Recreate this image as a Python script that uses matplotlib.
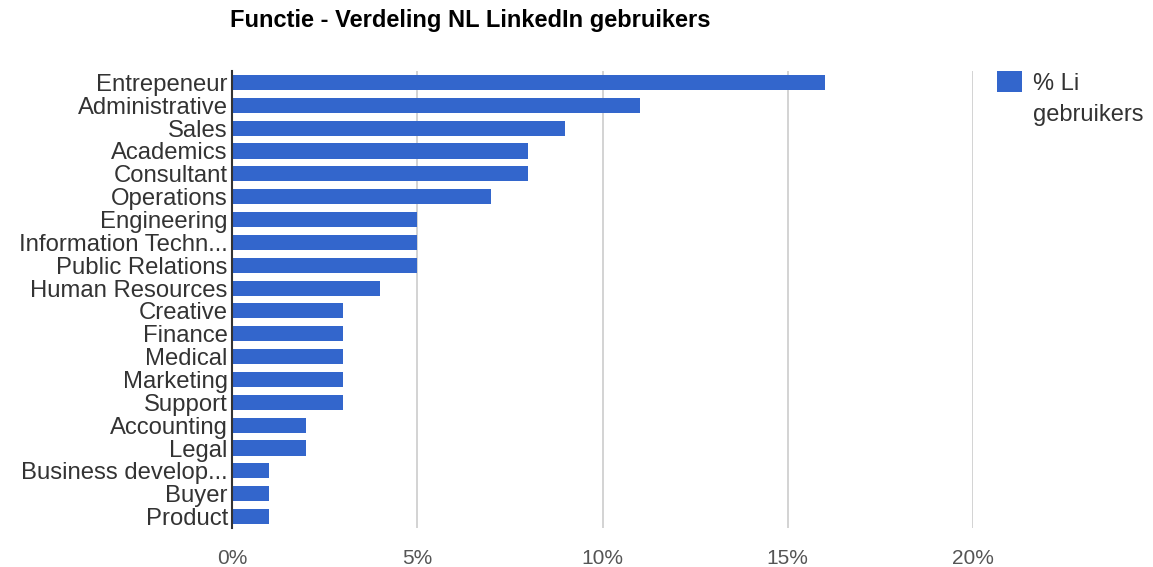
import numpy as np
import matplotlib.pyplot as plt
from matplotlib.patches import Patch

# Data
functies = ["Entrepeneur", "Administrative", "Sales", "Academics", "Consultant",
            "Operations", "Engineering", "Information Techn...", "Public Relations",
            "Human Resources", "Creative", "Finance", "Medical", "Marketing",
            "Support", "Accounting", "Legal", "Business develop...", "Buyer", "Product"]
percentages = [16, 11, 9, 8, 8, 7, 5, 5, 5, 4, 3, 3, 3, 3, 3, 2, 2, 1, 1, 1]
xticks = [0, 5, 10, 15, 20]
xticklabels = ["0%", "5%", "10%", "15%", "20%"]

plt.rcParams['font.family'] = ['Liberation Sans', 'DejaVu Sans']

fig = plt.figure(figsize=(11.53, 5.67), dpi=100)
ax = fig.add_axes([232 / 1153, 1 - 528 / 567, 741 / 1153, 457 / 567])

y = np.arange(len(functies))
ax.barh(y, percentages, height=0.66, color='#3366CC', zorder=3)

ax.set_xlim(0, 20)
ax.set_ylim(len(functies) - 0.5, -0.5)
ax.set_yticks(y)
ax.set_yticklabels(functies, fontsize=17.2, color='#333333')
ax.set_xticks(xticks)
ax.set_xticklabels(xticklabels, fontsize=15, color='#555555')
ax.tick_params(axis='both', length=0)
ax.tick_params(axis='y', pad=3)
ax.tick_params(axis='x', pad=15)

ax.grid(axis='x', color='#cccccc', linewidth=1.2, zorder=0)
for s in ['top', 'right', 'bottom']:
    ax.spines[s].set_visible(False)
ax.spines['left'].set_color('#333333')
ax.spines['left'].set_linewidth(1.5)
ax.spines['left'].set_zorder(4)

fig.text(230 / 1153, 1 - 20 / 567, "Functie - Verdeling NL LinkedIn gebruikers",
         fontsize=17, fontweight='bold', ha='left', va='center', color='black')

# legend: square + first line, second line as text below
leg = fig.legend(handles=[Patch(facecolor='#3366CC', label='% Li')],
                 loc='center left', bbox_to_anchor=(997 / 1153, 1 - 83 / 567),
                 frameon=False, fontsize=17, handlelength=1.06, handleheight=0.97,
                 handletextpad=0.45, borderpad=0, borderaxespad=0)
for t in leg.get_texts():
    t.set_color('#333333')
fig.text(1033 / 1153, 1 - 115 / 567, "gebruikers", fontsize=17,
         color='#333333', ha='left', va='center')

fig.savefig('out.png', dpi=100)
